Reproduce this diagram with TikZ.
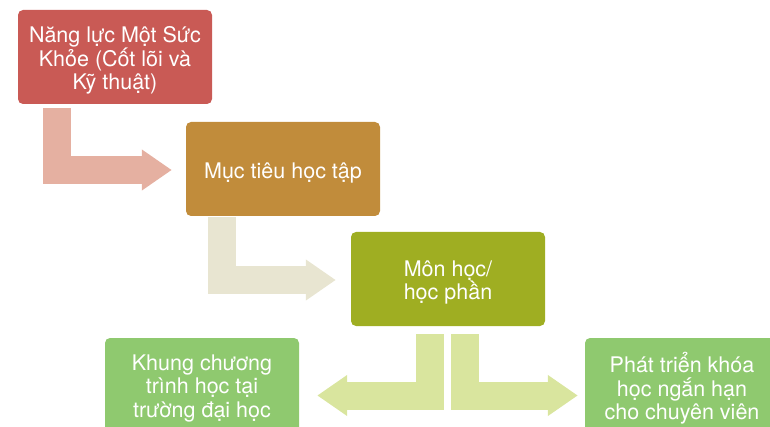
\documentclass[tikz,border=0pt]{standalone}
\usepackage{xcolor}
\usepackage{fontspec}
\setmainfont{TeX Gyre Heros}
\usepackage{tikz}
\usetikzlibrary{positioning,calc,arrows.meta}
\definecolor{boxred}{HTML}{C95A55}
\definecolor{boxbrown}{HTML}{C18C3B}
\definecolor{boxolive}{HTML}{9FAE22}
\definecolor{boxgreen}{HTML}{8FC96F}
\definecolor{arrowpink}{HTML}{E5B0A1}
\definecolor{arrowbeige}{HTML}{E8E5D1}
\definecolor{arrowlime}{HTML}{D9E59E}

\begin{document}
\begin{tikzpicture}[x=1pt, y=-1pt,
    box/.style={rounded corners=5pt, minimum width=194pt, minimum height=94pt, inner sep=0pt},
    boxtext/.style={align=center, text=white, font=\fontsize{21.5}{23.5}\selectfont, yshift=-3.5pt},
    flow/.style={line width=28pt, line join=miter, -{Triangle[width=39pt,length=30pt]}}]
   \useasboundingbox (0,0) rectangle (770,427);
   \clip (0,0) rectangle (770,427);
   % Boxes, one level lower each step
   \node[box, fill=boxred, label={[boxtext]center:{Năng lực Một Sức\\Khỏe (Cốt lõi và\\Kỹ thuật)}}] (core) at (115,57) {};
   \node[box, fill=boxbrown, label={[boxtext]center:{Mục tiêu học tập}}] (goal) at (283,169) {};
   \node[box, fill=boxolive, label={[boxtext]center:{Môn học/\\học phần}}] (module) at (448,279) {};
   \node[box, fill=boxgreen, label={[boxtext]center:{Khung chương\\trình học tại\\trường đại học}}] (uni) at (202,385) {};
   \node[box, fill=boxgreen, label={[boxtext]center:{Phát triển khóa\\học ngắn hạn\\cho chuyên viên}}] (short) at (682,385) {};

   % Bent arrows between the levels
   \draw[flow, arrowpink] ($(core.south west)+(39.5,4)$) |- ($(goal.west)+(-14,1)$);
   \draw[flow, arrowbeige] ($(goal.south west)+(36,1)$) |- ($(module.west)+(-15,1)$);
   \draw[flow, arrowlime] ($(module.south)+(-18,8)$) |- ($(uni.east)+(18,10.5)$);
   \draw[flow, arrowlime] ($(module.south)+(17,8)$) |- ($(short.west)+(-7,10.5)$);
\end{tikzpicture}
\end{document}
